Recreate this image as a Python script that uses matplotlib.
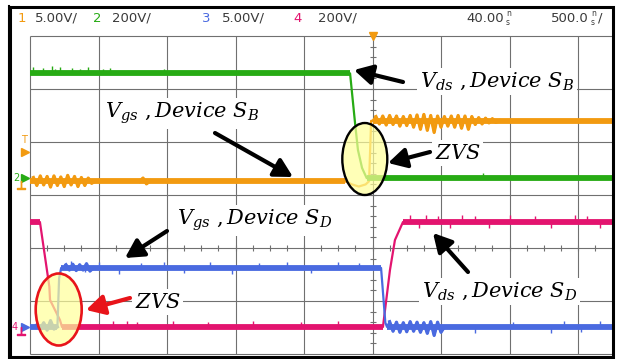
import matplotlib.pyplot as plt
import numpy as np
from matplotlib.patches import Ellipse, Rectangle

plt.rcParams['mathtext.fontset'] = 'dejavuserif'

# scope settings
time_per_div = 40.0            # ns/div
t_left = -200.0                # ns at left grid edge (trigger at 0)
volts_per_div = {1: 5.0, 2: 200.0, 3: 5.0, 4: 200.0}
ground_div = {1: 1.26, 2: 1.32, 3: -1.49, 4: -1.49}   # ground marker, div from centre
colors = {1: '#f29a10', 2: '#27ab14', 3: '#4a6ae0', 4: '#e3146f'}
trig_level = 2.75              # V on ch1

header = [('1', 1), ('5.00V/', None), ('2', 2), ('200V/', None),
          ('3', 3), ('5.00V/', None), ('4', 4), ('200V/', None)]
header_x = [18, 35, 93, 112, 202, 222, 293, 318]

# ---- ch1: Vgs of S_B (V)
ch1_t = [-200, -160, -16, -12, -8, -4, -2.0, -0.8, 0, 76, 140]
ch1_v = [0, 0, 0, -0.3, -0.5, -0.3, 0, 5.7, 5.7, 5.7, 5.7]
ch1_ring = [(-198, 0.0, [0.35, -0.4, 0.5, -0.35, 0.45, -0.55, 0.5, -0.4, 0.4, -0.5,
                         0.55, -0.35, 0.45, -0.5, 0.35, -0.4, 0.3, -0.2, 0.0]),
            (-136, 0.0, [0.0, 0.3, -0.25, 0.0]),
            (2, 5.7, [0.4, -0.3, 0.45, -0.4, 0.5, -0.35, 0.45, -0.5, 0.4, -0.45,
                      0.5, -0.6, 0.55, -0.8, 0.6, -0.9, 0.5, -1.1, 0.45, -0.6,
                      0.4, -0.5, 0.45, -0.6, 0.5, -0.7, 0.45, -0.8, 0.4, -0.35,
                      0.3, -0.3, 0.25, -0.2, 0.2, -0.15, 0.0])]
ch1_band = [(-200, -15), (0, 140)]

# ---- ch2: Vds of S_B (V)
ch2_t = [-200, -13.1, -10.2, -8.5, -6.1, -3.4, 140]
ch2_v = [395, 395, 208, 106, 38, 0, 0]
ch2_ring = []
ch2_band = [(-200, -13.1), (-3.4, 140)]
ch2_spikes = [(-198, 24), (-192.6, 20), (-187.4, 26), (-185.6, 18), (-182.7, 24),
              (-175.7, 20), (-171, 16), (-166.4, 24), (-157.6, 18), (-153.5, 20),
              (-122, 18), (64.5, 20)]

# ---- ch3: Vgs of S_D (V)
ch3_t = [-200, -198, -184.5, -183.0, -181.8, -180.5, 5.0, 7.5, 8.5, 140]
ch3_v = [0, 0, 0, 4.6, 5.57, 5.57, 5.57, 0.4, 0, 0]
ch3_ring = [(-196, 0.0, [0.2, -0.2, 0.4, -0.3, 0.6, -0.2, 0.0]),
            (-179, 5.57, [0.3, -0.2, 0.35, -0.25, 0.3, -0.2, 0.4, -0.3, 0.0]),
            (10, 0.0, [0.5, -0.4, 0.45, -0.5, 0.4, -0.45, 0.5, -0.4, 0.45, -0.5,
                       0.4, -0.6, 0.5, -0.8, 0.45, -0.5, 0.0])]
ch3_band = [(-200, -184.5), (-181.8, 5.0), (8.5, 140)]
ch3_spikes = [(-176, 0.6), (-168, -0.5), (-160, 0.6), (-148, -0.6), (-135, 0.5),
              (-122, 0.6), (-110, -0.5), (-95, 0.6), (-82, -0.6), (-66, 0.5),
              (-50, 0.6), (-36, -0.5), (-20, 0.6), (-8, 0.5), (60, -0.6),
              (82, 0.5), (104, -0.6), (112, 0.6), (122, -0.5), (133, 0.6)]

# ---- ch4: Vds of S_D (V)
ch4_t = [-200, -194.2, -188.7, -188.3, -182.5, -181.3, 6.1, 10.2, 13.1, 17.8, 140]
ch4_v = [396, 396, 152, 102, 26, 0, 0, 215, 328, 396, 396]
ch4_ring = []
ch4_band = [(-200, -194.2), (-181.3, 6.1), (17.8, 140)]
ch4_spikes = [(-151.5, 24), (-143.3, 24), (-137.5, 20), (-116.5, 24), (-96, 20),
              (-70, 24), (-42, 20), (-20, 24), (22, 26), (27, -24), (31, 26),
              (38, 24), (45, -24), (52, 26), (60, 24), (68, -24), (80, 26),
              (95, 24), (104, -24), (118, 26), (125, 24), (133, -24)]

channels = {1: (ch1_t, ch1_v, ch1_ring, ch1_band, []),
            2: (ch2_t, ch2_v, ch2_ring, ch2_band, ch2_spikes),
            3: (ch3_t, ch3_v, ch3_ring, ch3_band, ch3_spikes),
            4: (ch4_t, ch4_v, ch4_ring, ch4_band, ch4_spikes)}

W, H = 620, 359
fig = plt.figure(figsize=(W / 100, H / 100), dpi=100)
ax = fig.add_axes([30 / W, 5 / H, 582 / W, 318 / H])
t_right = t_left + 582 / 68.5 * time_per_div
ax.set_xlim(t_left, t_right)
ax.set_ylim(-2, 4)
ax.axis('off')

# graticule
grid_t = np.arange(t_left, t_right, time_per_div)
grid_y = np.arange(-2, 5)
ax.vlines(grid_t, -2, 4, color='#707070', lw=0.8, zorder=1, clip_on=False)
ax.hlines(grid_y, t_left, t_right, color='#707070', lw=0.8, zorder=1, clip_on=False)
ax.plot(np.zeros(31), np.arange(-2, 4.01, 0.2), ls='none', marker='_', ms=5,
        mew=0.8, color='#707070', zorder=1)
ax.plot(np.arange(t_left, t_right, time_per_div / 4), np.zeros(34), ls='none',
        marker='|', ms=5, mew=0.8, color='#707070', zorder=1)


def to_div(ch, v):
    return ground_div[ch] + np.asarray(v, dtype=float) / volts_per_div[ch]


def build(ch):
    t, v, ring, band, spikes = channels[ch]
    tt = list(t)
    vv = list(v)
    for t0, level, devs in ring:
        for k, d in enumerate(devs):
            tt.append(t0 + 2 * k)
            vv.append(level + d)
    order = np.argsort(tt, kind='stable')
    return np.array(tt)[order], to_div(ch, np.array(vv)[order])


for ch in (1, 2, 4, 3):
    t, v, ring, band, spikes = channels[ch]
    c = colors[ch]
    kt, ky = np.array(t, dtype=float), to_div(ch, v)
    tt, yy = build(ch)
    # persistence band on the steady parts
    for a, b in band:
        m = (kt >= a) & (kt <= b)
        ax.plot(kt[m], ky[m], color=c, lw=4.2, solid_capstyle='butt', zorder=3)
    ax.plot(tt, yy, color=c, lw=1.6, zorder=3)
    for t0, level, devs in ring:
        rt = t0 + 2 * np.arange(len(devs))
        ax.plot(rt, to_div(ch, level + np.array(devs)), color=c, lw=2.3, zorder=3)
    for ts, dv in spikes:
        y0 = np.interp(ts, tt, yy)
        ax.vlines(ts, y0, y0 + dv / volts_per_div[ch], color=c, lw=1.0, zorder=3)

# channel markers in left margin
ym = ax.get_yaxis_transform()
ax.plot([-0.008], [to_div(1, trig_level)], transform=ym,
        marker='>', ms=6, color=colors[1], clip_on=False)
ax.text(-0.011, to_div(1, trig_level) + 0.22, 'T', transform=ym,
        color=colors[1], fontsize=7, ha='center', va='center')
ax.plot([-0.008], [ground_div[2]], transform=ym, marker='>', ms=6,
        color=colors[2], clip_on=False)
ax.text(-0.024, ground_div[2], '2', transform=ym, color=colors[2], fontsize=7,
        ha='center', va='center')
ax.plot([-0.016], [ground_div[1] - 0.08], transform=ym, marker='$\u22a5$', ms=6,
        color=colors[1], clip_on=False)
ax.plot([-0.008], [ground_div[3]], transform=ym, marker='>', ms=6,
        color=colors[3], clip_on=False)
ax.text(-0.026, ground_div[4], '4', transform=ym, color=colors[4], fontsize=7,
        ha='center', va='center')
ax.plot([-0.016], [ground_div[4] - 0.08], transform=ym, marker='$\u22a5$', ms=6,
        color=colors[4], clip_on=False)
ax.plot([0], [4], marker='v', ms=6, color=colors[1], clip_on=False, zorder=4)

# overlay in pixel units for frame, header and annotations
ov = fig.add_axes([0, 0, 1, 1], zorder=5)
ov.set_xlim(0, W)
ov.set_ylim(H, 0)
ov.axis('off')
ov.patch.set_alpha(0)

ov.add_patch(Rectangle((10, 7), 603, 350, fill=False, ec='black', lw=2.2))
ov.plot([8.8, 8.8], [6, 358], color='black', lw=1.5)

hfont = dict(fontsize=9.5, va='center', family=['Liberation Sans Narrow', 'DejaVu Sans'])
for (s, ch), x in zip(header, header_x):
    ov.text(x, 18, s, color=colors[ch] if ch else '#3a3a3a', **hfont)
ov.text(504, 18, '40.00', color='#3a3a3a', ha='right', **hfont)
ov.text(506, 18, 'n\ns', color='#3a3a3a', fontsize=5.5, va='center', linespacing=0.9)
ov.text(589, 18, '500.0', color='#3a3a3a', ha='right', **hfont)
ov.text(591, 18, 'n\ns', color='#3a3a3a', fontsize=5.5, va='center', linespacing=0.9)
ov.text(598, 18, '/', color='#3a3a3a', **hfont)

box = dict(facecolor='white', edgecolor='none', pad=2)
lab = dict(fontsize=15, va='baseline', ha='left', bbox=box)
ov.text(420, 87, r'$V_{ds}\ ,Device\ S_B$', **lab)
ov.text(105, 118, r'$V_{gs}\ ,Device\ S_B$', **lab)
ov.text(435, 159, r'$ZVS$', **lab)
ov.text(177, 225, r'$V_{gs}\ ,Device\ S_D$', **lab)
ov.text(135, 308, r'$ZVS$', **lab)
ov.text(422, 297, r'$V_{ds}\ ,Device\ S_D$', **lab)

ov.add_patch(Ellipse((364.8, 159), 45, 72, fc=(1, 1, 0.6, 0.7), ec='black', lw=1.7))
ov.add_patch(Ellipse((58.7, 309.5), 46, 72, fc=(1, 1, 0.6, 0.7), ec='#e8141a', lw=1.9))


def arrow(tail, head, color='black'):
    ov.annotate('', xy=head, xytext=tail,
                arrowprops=dict(arrowstyle='-|>,head_length=0.55,head_width=0.3',
                                lw=3, color=color, mutation_scale=20,
                                shrinkA=0, shrinkB=0))


arrow((403, 82), (354, 70))
arrow((215, 133), (293, 177))
arrow((430, 152), (388, 163))
arrow((167, 231), (125, 258))
arrow((130, 298), (86, 310), color='#e8141a')
arrow((468, 272), (433, 233))

fig.savefig('out.png', dpi=100)
